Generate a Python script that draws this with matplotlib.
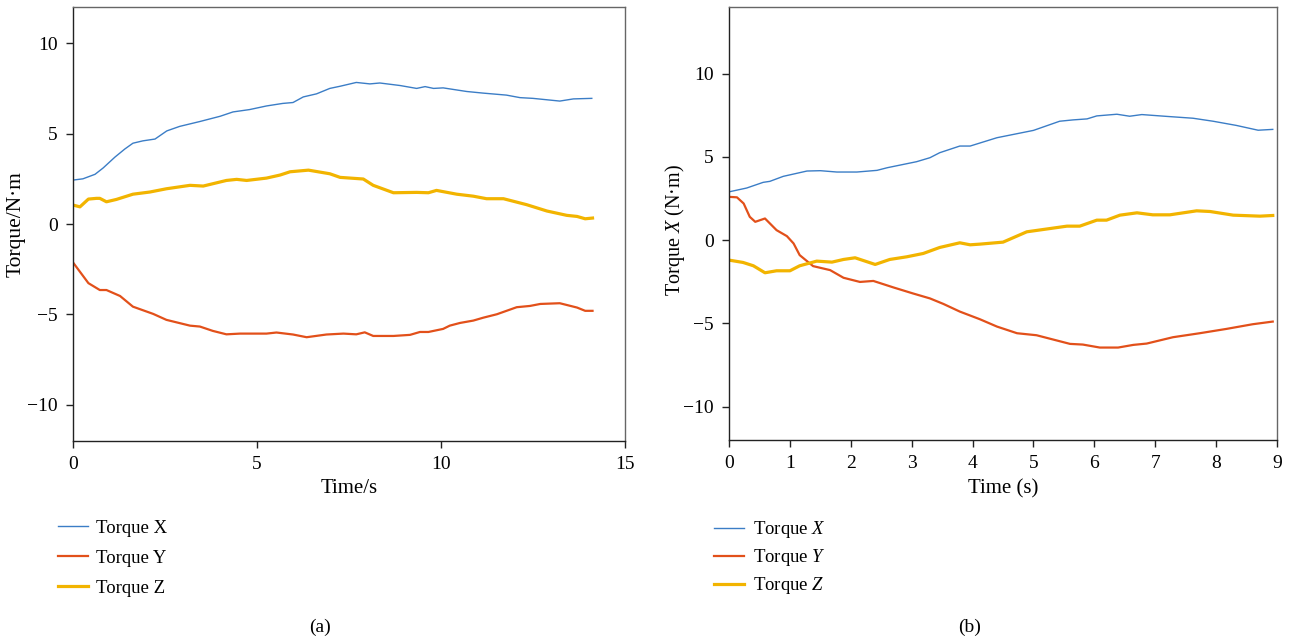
import matplotlib
matplotlib.use("Agg")
import matplotlib.pyplot as plt

plt.rcParams['font.family'] = ['Liberation Serif', 'DejaVu Serif']
plt.rcParams['mathtext.fontset'] = 'custom'
plt.rcParams['mathtext.rm'] = 'Liberation Serif'
plt.rcParams['mathtext.it'] = 'Liberation Serif:italic'
plt.rcParams['font.size'] = 14

# (a) torque components vs time
ta_x = [0, 0.27, 0.6, 0.82, 1.14, 1.41, 1.63, 1.9, 2.23, 2.55, 2.9, 3.45, 4.0, 4.35, 4.8,
        5.26, 5.7, 5.98, 6.26, 6.62, 6.98, 7.26, 7.7, 8.07, 8.34, 8.89, 9.34, 9.57, 9.8,
        10.06, 10.7, 11.15, 11.78, 12.15, 12.5, 13.23, 13.6, 14.1]
a_x = [2.43, 2.5, 2.75, 3.1, 3.7, 4.15, 4.47, 4.6, 4.7, 5.15, 5.4, 5.67, 5.96, 6.2, 6.33,
       6.53, 6.67, 6.72, 7.03, 7.2, 7.5, 7.62, 7.83, 7.75, 7.8, 7.66, 7.5, 7.6, 7.5,
       7.53, 7.33, 7.24, 7.13, 6.99, 6.95, 6.8, 6.92, 6.95]

ta_y = [0, 0.42, 0.73, 0.91, 1.28, 1.63, 2.18, 2.54, 3.18, 3.45, 3.8, 4.17, 4.54, 5.26,
        5.53, 5.98, 6.35, 6.89, 7.35, 7.7, 7.93, 8.16, 8.71, 9.16, 9.43, 9.66, 10.06,
        10.24, 10.52, 10.88, 11.15, 11.52, 12.06, 12.42, 12.7, 13.23, 13.7, 13.92, 14.12]
a_y = [-2.12, -3.27, -3.65, -3.65, -3.98, -4.57, -4.97, -5.3, -5.62, -5.67, -5.91, -6.1,
       -6.06, -6.06, -6.0, -6.11, -6.26, -6.11, -6.06, -6.1, -5.99, -6.19, -6.19, -6.13,
       -5.97, -5.97, -5.8, -5.62, -5.47, -5.34, -5.18, -4.99, -4.6, -4.53, -4.42, -4.38,
       -4.62, -4.8, -4.8]

ta_z = [0, 0.19, 0.42, 0.64, 0.73, 0.91, 1.18, 1.63, 2.09, 2.54, 3.18, 3.54, 4.17, 4.45,
        4.72, 5.26, 5.63, 5.9, 6.4, 6.98, 7.26, 7.89, 8.16, 8.71, 9.34, 9.66, 9.88, 10.43,
        10.88, 11.24, 11.7, 12.33, 12.88, 13.42, 13.7, 13.92, 14.12]
a_z = [1.05, 0.95, 1.38, 1.42, 1.42, 1.23, 1.36, 1.65, 1.77, 1.95, 2.14, 2.1, 2.41, 2.47,
       2.41, 2.54, 2.71, 2.89, 2.98, 2.78, 2.58, 2.49, 2.14, 1.73, 1.75, 1.73, 1.86, 1.65,
       1.54, 1.4, 1.4, 1.07, 0.72, 0.48, 0.42, 0.29, 0.33]

# (b) torque components vs time
tb_x = [0, 0.29, 0.56, 0.67, 0.89, 1.28, 1.5, 1.77, 2.1, 2.43, 2.6, 3.08, 3.3, 3.46, 3.79,
        3.96, 4.4, 5.0, 5.43, 5.65, 5.88, 6.04, 6.37, 6.58, 6.78, 7.19, 7.62, 7.95, 8.33,
        8.69, 8.93]
b_x = [2.9, 3.13, 3.47, 3.53, 3.83, 4.15, 4.17, 4.09, 4.09, 4.19, 4.35, 4.71, 4.95, 5.25,
       5.65, 5.65, 6.15, 6.59, 7.14, 7.22, 7.28, 7.46, 7.56, 7.44, 7.54, 7.43, 7.32, 7.14,
       6.89, 6.6, 6.65]

tb_y = [0, 0.13, 0.24, 0.34, 0.43, 0.59, 0.78, 0.95, 1.06, 1.16, 1.38, 1.66, 1.88, 2.15,
        2.37, 2.7, 3.02, 3.3, 3.52, 3.79, 4.12, 4.4, 4.73, 5.05, 5.6, 5.81, 6.09, 6.39,
        6.64, 6.86, 7.29, 7.73, 8.17, 8.6, 8.93]
b_y = [2.6, 2.57, 2.2, 1.4, 1.1, 1.3, 0.6, 0.24, -0.2, -0.9, -1.56, -1.8, -2.26, -2.51,
       -2.45, -2.84, -3.2, -3.5, -3.83, -4.29, -4.75, -5.19, -5.59, -5.71, -6.23, -6.27,
       -6.45, -6.45, -6.29, -6.21, -5.83, -5.59, -5.33, -5.05, -4.89]

tb_z = [0, 0.23, 0.4, 0.59, 0.78, 1.0, 1.16, 1.44, 1.69, 1.88, 2.07, 2.4, 2.64, 2.92, 3.19,
        3.46, 3.79, 3.96, 4.12, 4.5, 4.89, 5.55, 5.76, 6.04, 6.2, 6.42, 6.7, 6.96, 7.24,
        7.68, 7.9, 8.28, 8.72, 8.93]
b_z = [-1.2, -1.34, -1.54, -1.96, -1.84, -1.84, -1.54, -1.26, -1.32, -1.16, -1.06, -1.46,
       -1.16, -1.0, -0.8, -0.44, -0.16, -0.28, -0.24, -0.12, 0.5, 0.84, 0.84, 1.2, 1.2,
       1.5, 1.64, 1.52, 1.52, 1.76, 1.72, 1.5, 1.44, 1.48]

C_X = '#3b7dc6'
C_Y = '#e2501a'
C_Z = '#f2b400'


def style_axes(ax):
    for side in ['left', 'bottom']:
        ax.spines[side].set_color('#222222')
        ax.spines[side].set_linewidth(1.0)
    for side in ['top', 'right']:
        ax.spines[side].set_color('#666666')
        ax.spines[side].set_linewidth(1.0)
    ax.tick_params(direction='out', length=5, width=1.0, color='#222222',
                   labelsize=14, pad=6, top=False, right=False)


fig = plt.figure(figsize=(12.89, 6.41), dpi=100)

ax1 = fig.add_axes([0.0566, 0.312, 0.4282, 0.677])
ax1.plot(ta_x, a_x, color=C_X, lw=1.0, label='Torque X')
ax1.plot(ta_y, a_y, color=C_Y, lw=1.6, label='Torque Y')
ax1.plot(ta_z, a_z, color=C_Z, lw=2.3, label='Torque Z')
ax1.set_xlim(0, 15)
ax1.set_ylim(-12, 12)
ax1.set_xticks([0, 5, 10, 15])
ax1.set_yticks([-10, -5, 0, 5, 10])
ax1.set_xlabel('Time/s', fontsize=15, labelpad=4)
ax1.set_ylabel('Torque/N·m', fontsize=15.5)
ax1.yaxis.set_label_coords(-0.085, 0.5)
style_axes(ax1)
ax1.legend(loc='upper left', bbox_to_anchor=(0.045, 0.189), bbox_transform=fig.transFigure,
           frameon=False, borderpad=0, borderaxespad=0, handlelength=1.6,
           handletextpad=0.45, labelspacing=0.68, fontsize=13.5)

ax2 = fig.add_axes([0.5656, 0.3136, 0.4251, 0.6755])
ax2.plot(tb_x, b_x, color=C_X, lw=1.0, label='Torque $X$')
ax2.plot(tb_y, b_y, color=C_Y, lw=1.6, label='Torque $Y$')
ax2.plot(tb_z, b_z, color=C_Z, lw=2.3, label='Torque $Z$')
ax2.set_xlim(0, 9)
ax2.set_ylim(-12, 14)
ax2.set_xticks(range(0, 10))
ax2.set_yticks([-10, -5, 0, 5, 10])
ax2.set_xlabel('Time (s)', fontsize=15, labelpad=5)
ax2.set_ylabel('Torque $X$ (N·m)', fontsize=14.5)
ax2.yaxis.set_label_coords(-0.076, 0.485)
style_axes(ax2)
ax2.legend(loc='upper left', bbox_to_anchor=(0.554, 0.19), bbox_transform=fig.transFigure,
           frameon=False, borderpad=0, borderaxespad=0, handlelength=1.6,
           handletextpad=0.45, labelspacing=0.38, fontsize=13.5)

fig.text(320 / 1289, 1 - 627 / 641, '(a)', ha='center', va='center', fontsize=14)
fig.text(970 / 1289, 1 - 627 / 641, '(b)', ha='center', va='center', fontsize=14)

fig.savefig('out.png', dpi=100)
